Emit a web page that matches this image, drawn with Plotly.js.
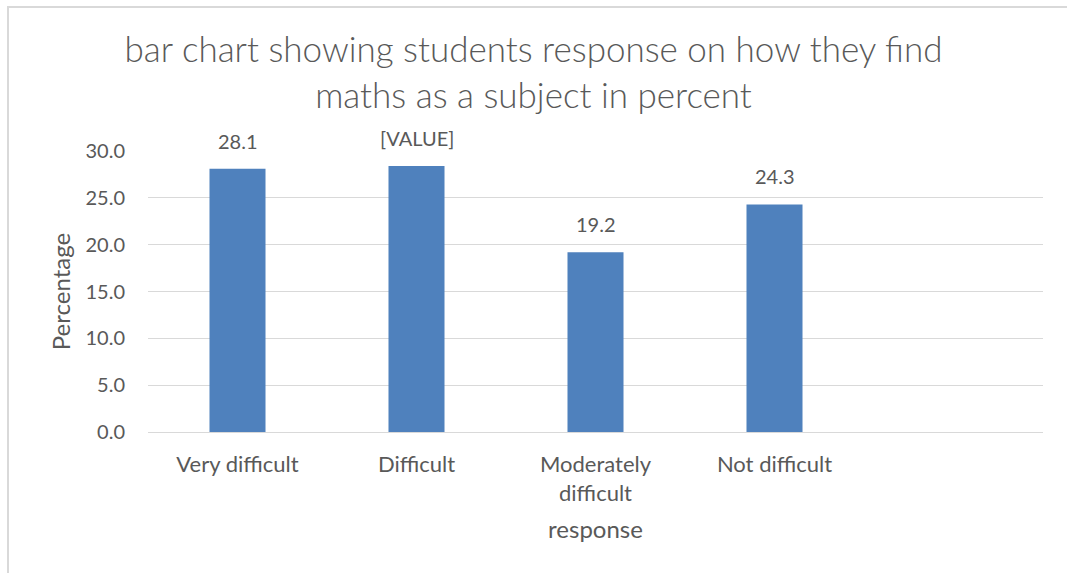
<!DOCTYPE html>
<html>
<head>
<meta charset="utf-8">
<script src="https://cdn.plot.ly/plotly-3.0.1.min.js"></script>
<style>
  html, body { margin: 0; padding: 0; background: #fff; }
  #chart { position: absolute; left: 0; top: 0; width: 1067px; height: 573px; }
  #frame { position: absolute; left: 7px; top: 6px; width: 1070px; height: 580px;
           border-left: 2px solid #d9d9d9; border-top: 2px solid #d9d9d9;
           pointer-events: none; }
</style>
</head>
<body>
<div id="chart"></div>
<div id="frame"></div>
<script>
// Survey responses: how students find maths as a subject (percent)
const categories = ["Very difficult", "Difficult", "Moderately<br>difficult", "Not difficult"];
const percentages = [28.1, 28.4, 19.2, 24.3];
const dataLabels = ["28.1", "[VALUE]", "19.2", "24.3"];
const yTicks = [0, 5, 10, 15, 20, 25, 30];
const yTickText = ["0.0", "5.0", "10.0", "15.0", "20.0", "25.0", "30.0"];

const positions = categories.map((_, i) => i);
const textColor = "#595959";
const font = "Lato, 'Open Sans', sans-serif";

const trace = {
  type: "bar",
  x: positions,
  y: percentages,
  width: 0.313,
  marker: { color: "#4f81bd" },
  hoverinfo: "x+y"
};

const labels = positions.map((p, i) => ({
  x: p,
  y: percentages[i],
  xref: "x",
  yref: "y",
  text: dataLabels[i],
  showarrow: false,
  yanchor: "bottom",
  yshift: 14,
  font: { family: font, size: 20, color: textColor }
}));

const layout = {
  width: 1067,
  height: 573,
  margin: { l: 148, r: 24, t: 151, b: 141 },
  paper_bgcolor: "#ffffff",
  plot_bgcolor: "#ffffff",
  showlegend: false,
  font: { family: font, color: textColor },
  title: {
    text: "bar chart showing students response on how they find<br>maths as a subject in percent",
    font: { family: font, size: 35, color: textColor, weight: 300 },
    x: 0.5,
    xanchor: "center",
    xref: "container",
    yref: "container",
    y: 1 - 62 / 573,
    yanchor: "top"
  },
  xaxis: {
    range: [-0.5, 4.5],
    tickvals: positions,
    ticktext: categories,
    showgrid: false,
    zeroline: false,
    showline: true,
    linecolor: "#d9d9d9",
    linewidth: 1,
    ticks: "",
    ticklabelstandoff: 13,
    tickfont: { family: font, size: 22, color: textColor },
    title: {
      text: "response",
      standoff: 16,
      font: { family: font, size: 24, color: textColor }
    },
    fixedrange: true
  },
  yaxis: {
    range: [0, 30],
    tickvals: yTicks,
    ticktext: yTickText,
    showgrid: true,
    gridcolor: "#d9d9d9",
    gridwidth: 1,
    zeroline: false,
    showline: false,
    ticks: "",
    ticklabelstandoff: 22,
    tickfont: { family: font, size: 20, color: textColor },
    title: {
      text: "Percentage",
      standoff: 8,
      font: { family: font, size: 24, color: textColor }
    },
    fixedrange: true
  },
  annotations: labels
};

Plotly.newPlot("chart", [trace], layout, { displayModeBar: false, staticPlot: true });
</script>
</body>
</html>
